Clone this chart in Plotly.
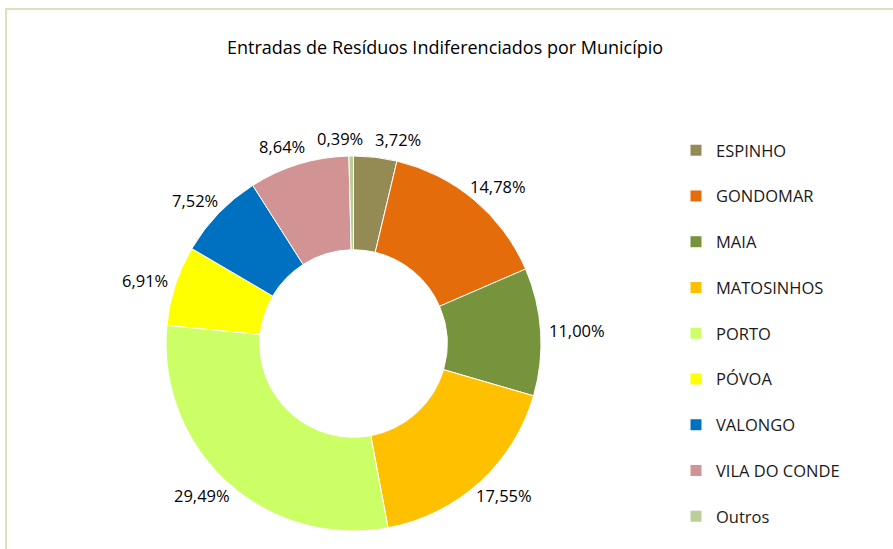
import math
import plotly.graph_objects as go

W, H = 893, 549

categories = ["ESPINHO", "GONDOMAR", "MAIA", "MATOSINHOS", "PORTO",
              "PÓVOA", "VALONGO", "VILA DO CONDE", "Outros"]
values = [3.72, 14.78, 11.00, 17.55, 29.49, 6.91, 7.52, 8.64, 0.39]
colors = ["#948A54", "#E46C0A", "#77933C", "#FFC000", "#CCFF66",
          "#FFFF00", "#0070C0", "#D19393", "#BACF98"]
title_text = "Entradas de Resíduos Indiferenciados por Município"

FONT = "Open Sans"
LABEL_SIZE = 16.5

# pie geometry in pixels
CX, CY, R = 353.5, 343.5, 187.5


def px(x):
    return x / W


def py(y):
    return 1 - y / H


fig = go.Figure()
fig.add_trace(go.Pie(
    labels=categories, values=values, sort=False, direction="clockwise",
    rotation=0, hole=0.5, textinfo="none", hoverinfo="label+percent",
    marker=dict(colors=colors, line=dict(color="white", width=1)),
    domain=dict(x=[px(CX - R), px(CX + R)], y=[py(CY + R), py(CY - R)]),
    showlegend=False,
))

# legend via dummy traces (so spacing can match)
for cat, col in zip(categories, colors):
    fig.add_trace(go.Scatter(
        x=[None], y=[None], mode="markers", name=cat, legendgroup=cat,
        marker=dict(symbol="square", size=11, color=col),
    ))

# data labels outside the ring
total = sum(values)
labels = []
cum = 0.0
for v in values:
    theta = 2 * math.pi * (cum + v / 2) / total
    cum += v
    txt = f"{v:.2f}%".replace(".", ",")
    ndig = sum(c.isdigit() for c in txt)
    w = ndig * 9.4 + 4.3 + 13.6
    h = 18
    d = 9
    cx = CX + (R + d + w / 2) * math.sin(theta)
    cy = CY - (R + d + h / 2) * math.cos(theta)
    labels.append([cx, cy, w, h, txt])

# resolve overlaps between neighbours horizontally
n = len(labels)
for _ in range(5):
    for i in range(n):
        a = labels[i]
        b = labels[(i + 1) % n]
        gap = 12
        if abs(a[1] - b[1]) < (a[3] + b[3]) / 2 and abs(a[0] - b[0]) < (a[2] + b[2]) / 2 + gap:
            need = (a[2] + b[2]) / 2 + gap - abs(a[0] - b[0])
            if a[0] <= b[0]:
                a[0] -= need / 2
                b[0] += need / 2
            else:
                a[0] += need / 2
                b[0] -= need / 2

annotations = []
for cx, cy, w, h, txt in labels:
    annotations.append(dict(
        x=px(cx), y=py(cy), xref="paper", yref="paper", text=txt,
        showarrow=False, xanchor="center", yanchor="middle",
        font=dict(family=FONT, size=LABEL_SIZE, color="#000000"),
    ))

annotations.append(dict(
    x=px(445), y=py(47), xref="paper", yref="paper", text=title_text,
    showarrow=False, xanchor="center", yanchor="middle",
    font=dict(family=FONT, size=18, color="#000000"),
))

fig.update_layout(
    width=W, height=H,
    margin=dict(l=0, r=0, t=0, b=0),
    paper_bgcolor="white", plot_bgcolor="white",
    xaxis=dict(visible=False), yaxis=dict(visible=False),
    legend=dict(x=px(676), y=py(133), xanchor="left", yanchor="top",
                font=dict(family=FONT, size=LABEL_SIZE, color="#1a1a1a"),
                tracegroupgap=21.3, bgcolor="rgba(0,0,0,0)"),
    annotations=annotations,
    shapes=[dict(type="rect", xref="paper", yref="paper",
                 x0=px(6), x1=1.05, y0=-0.05, y1=py(9),
                 line=dict(color="#D7E4BD", width=2))],
)

fig.write_html("out.html",
               config={"displayModeBar": False},
               post_script="document.body.style.margin='0';"
                           "document.body.style.overflow='hidden';")
